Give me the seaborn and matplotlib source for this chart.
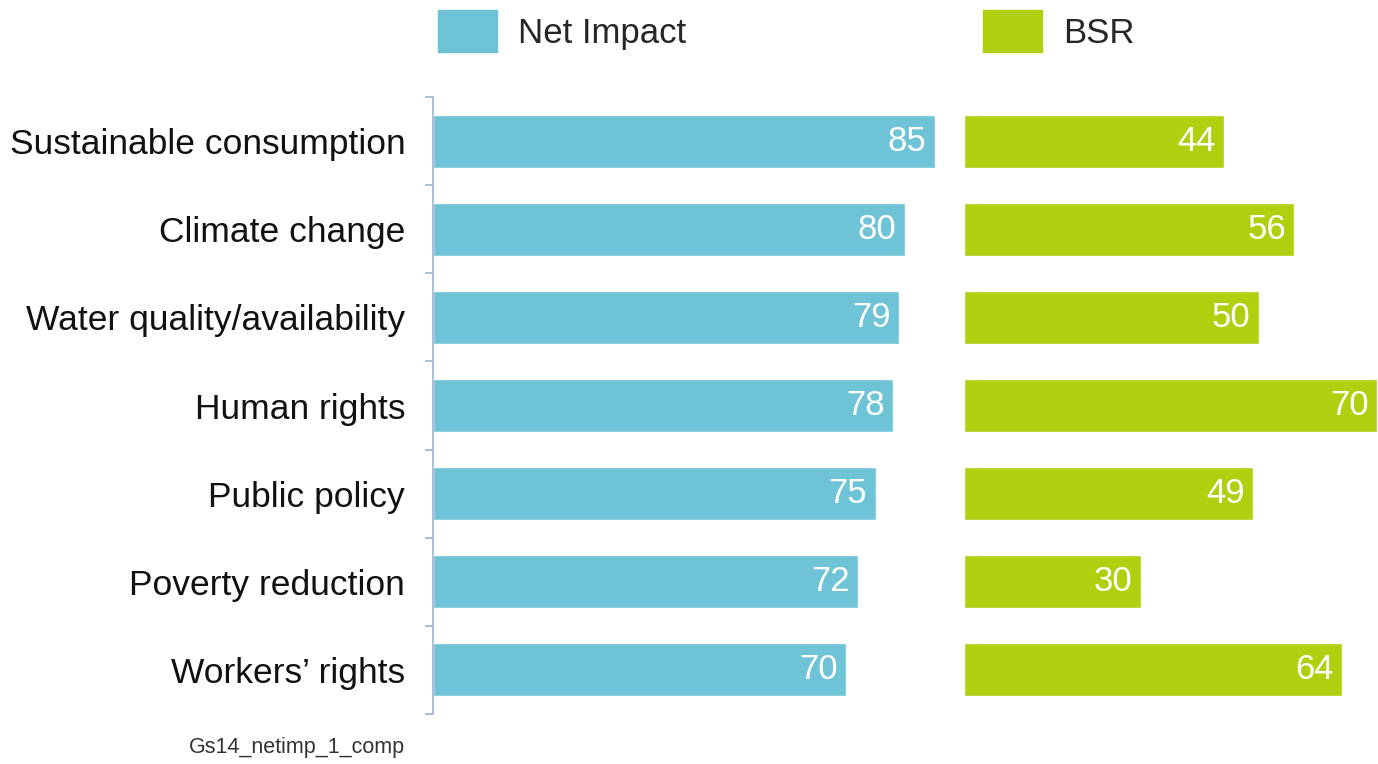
import matplotlib
matplotlib.use("Agg")
import matplotlib.pyplot as plt
import seaborn as sns
import pandas as pd
from matplotlib.patches import Patch

# data
issues = ["Sustainable consumption", "Climate change", "Water quality/availability",
          "Human rights", "Public policy", "Poverty reduction", "Workers\u2019 rights"]
net_impact = [85, 80, 79, 78, 75, 72, 70]
bsr = [44, 56, 50, 70, 49, 30, 64]

cyan = "#6fc3d7"
green = "#afd00f"
axis_col = "#9fb3cf"

sns.set_style("white")
plt.rcParams['font.family'] = ['Liberation Sans', 'DejaVu Sans']

df = pd.DataFrame({"issue": issues, "net": net_impact, "bsr": bsr})

W, H = 1378, 764
fig = plt.figure(figsize=(W / 100, H / 100), dpi=100)

ax1 = fig.add_axes([433 / W, 1 - 714 / H, 531 / W, 617 / H])
ax2 = fig.add_axes([964 / W, 1 - 714 / H, 414 / W, 617 / H])

sns.barplot(data=df, y="issue", x="net", color=cyan, width=0.6, saturation=1, ax=ax1)
sns.barplot(data=df, y="issue", x="bsr", color=green, width=0.6, saturation=1, ax=ax2)

ax1.set_xlim(0, 531 / 5.9)
ax2.set_xlim(0, 414 / 5.9)
for ax in (ax1, ax2):
    ax.set_ylim(6.5, -0.5)
    ax.set_xlabel("")
    ax.set_ylabel("")
    ax.set_xticks([])
    for s in ["top", "right", "bottom"]:
        ax.spines[s].set_visible(False)

ax2.spines["left"].set_visible(False)
ax2.set_yticks([])

ax1.spines["left"].set_color(axis_col)
ax1.spines["left"].set_linewidth(1.2)
ax1.tick_params(axis="y", which="major", length=0, pad=20, labelsize=25.5, labelcolor="#111111")
ax1.set_yticks([i - 0.5 for i in range(8)], minor=True)
ax1.tick_params(axis="y", which="minor", left=True, length=6, width=1.2, color=axis_col)

for ax, vals in ((ax1, net_impact), (ax2, bsr)):
    for i, v in enumerate(vals):
        ax.annotate(str(v), xy=(v, i), xytext=(-6, 0), textcoords="offset points",
                    ha="right", va="center", color="white", fontsize=25)

ax1.legend(handles=[Patch(color=cyan, label="Net Impact")], loc="center left",
           bbox_to_anchor=(438 / W, 1 - 31 / H), bbox_transform=fig.transFigure,
           frameon=False, fontsize=25, handlelength=1.7, handleheight=1.45,
           handletextpad=0.6, borderpad=0, borderaxespad=0)
ax2.legend(handles=[Patch(color=green, label="BSR")], loc="center left",
           bbox_to_anchor=(983 / W, 1 - 31 / H), bbox_transform=fig.transFigure,
           frameon=False, fontsize=25, handlelength=1.7, handleheight=1.45,
           handletextpad=0.6, borderpad=0, borderaxespad=0)

fig.text(405 / W, 1 - 748 / H, "Gs14_netimp_1_comp", ha="right", va="center",
         fontsize=15.5, color="#333333")

fig.savefig("out.png", dpi=100)
